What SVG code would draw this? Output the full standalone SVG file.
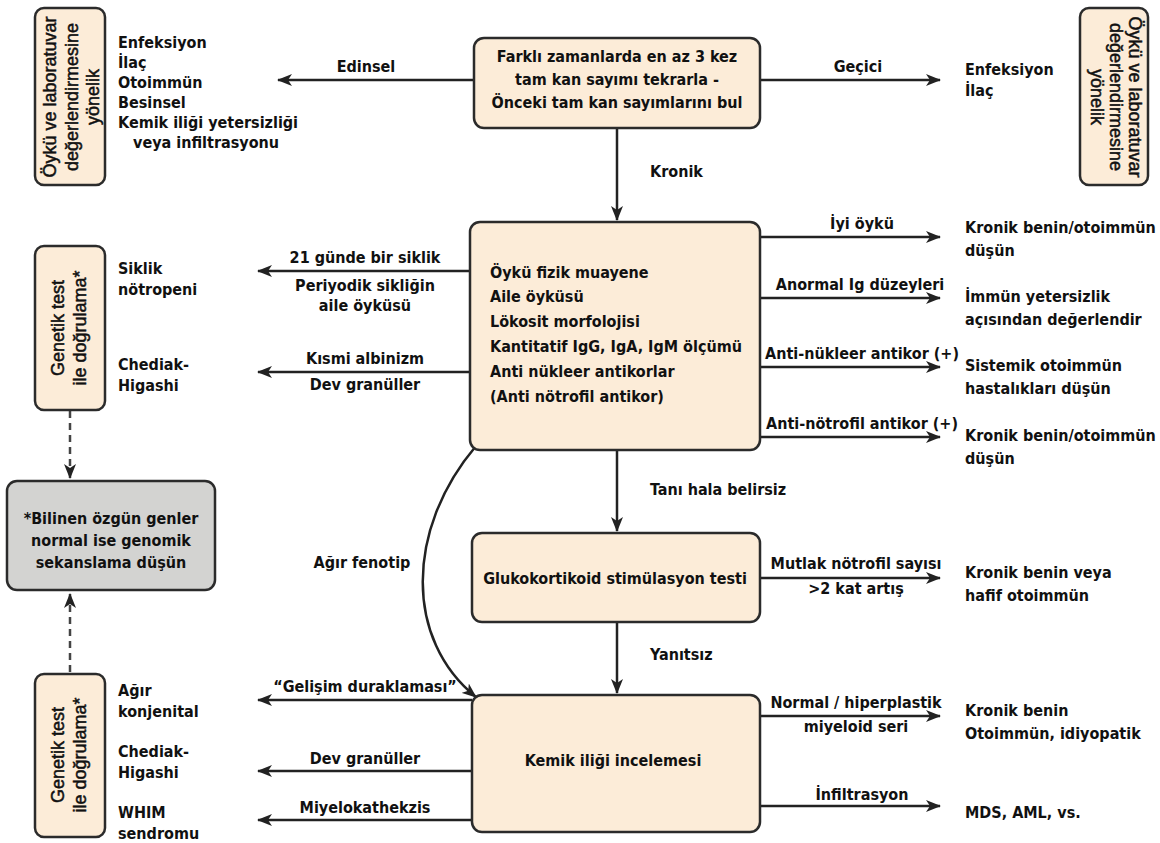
<svg xmlns="http://www.w3.org/2000/svg" width="1160" height="843" viewBox="0 0 1160 843">
<defs>
<style>
.t{font-family:"DejaVu Sans Condensed","Liberation Sans Narrow",sans-serif;font-size:16px;font-weight:bold;fill:#111}
.m{text-anchor:middle}
.r{font-family:"Liberation Sans",Arial,sans-serif;font-size:18px;fill:#111;stroke:#111;stroke-width:0.5;text-anchor:middle}
.box{fill:#fcecd8;stroke:#2b2b2b;stroke-width:2.5}
.gray{fill:#d3d3d1;stroke:#2b2b2b;stroke-width:2.5}
.c{fill:none;stroke:#222;stroke-width:2.5}
.d{fill:none;stroke:#444;stroke-width:2.5;stroke-dasharray:7,5}
</style>
<marker id="a" viewBox="0 0 15 12" refX="14" refY="6" markerWidth="15" markerHeight="12" markerUnits="userSpaceOnUse" orient="auto">
<path d="M0,0 L15,6 L0,12 L4,6 z" fill="#222"/>
</marker>
</defs>
<rect width="1160" height="843" fill="#fff"/>

<g id="connectors">
<line class="c" x1="474" y1="80" x2="278" y2="80" marker-end="url(#a)"/>
<line class="c" x1="760" y1="80" x2="940" y2="80" marker-end="url(#a)"/>
<line class="c" x1="617" y1="128" x2="617" y2="220" marker-end="url(#a)"/>
<line class="c" x1="760" y1="237" x2="940" y2="237" marker-end="url(#a)"/>
<line class="c" x1="760" y1="298" x2="940" y2="298" marker-end="url(#a)"/>
<line class="c" x1="760" y1="367" x2="940" y2="367" marker-end="url(#a)"/>
<line class="c" x1="760" y1="437" x2="940" y2="437" marker-end="url(#a)"/>
<line class="c" x1="470" y1="271" x2="258" y2="271" marker-end="url(#a)"/>
<line class="c" x1="470" y1="372" x2="258" y2="372" marker-end="url(#a)"/>
<line class="c" x1="617" y1="450" x2="617" y2="531" marker-end="url(#a)"/>
<line class="c" x1="760" y1="578" x2="940" y2="578" marker-end="url(#a)"/>
<line class="c" x1="617" y1="622" x2="617" y2="693" marker-end="url(#a)"/>
<line class="c" x1="760" y1="716" x2="940" y2="716" marker-end="url(#a)"/>
<line class="c" x1="760" y1="806" x2="940" y2="806" marker-end="url(#a)"/>
<line class="c" x1="472" y1="700" x2="258" y2="700" marker-end="url(#a)"/>
<line class="c" x1="472" y1="771" x2="258" y2="771" marker-end="url(#a)"/>
<line class="c" x1="472" y1="820" x2="258" y2="820" marker-end="url(#a)"/>
<path class="c" d="M476,446 C405,530 405,640 476,697" marker-end="url(#a)"/>
<line class="d" x1="70" y1="411" x2="70" y2="478" marker-end="url(#a)"/>
<line class="d" x1="70" y1="672" x2="70" y2="594" marker-end="url(#a)"/>
<text class="t m" x="366" y="72">Edinsel</text>
<text class="t m" x="858" y="72">Geçici</text>
<text class="t" x="650" y="177">Kronik</text>
<text class="t m" x="862" y="229">İyi öykü</text>
<text class="t m" x="860" y="290">Anormal Ig düzeyleri</text>
<text class="t m" x="862" y="359">Anti-nükleer antikor (+)</text>
<text class="t m" x="862" y="429">Anti-nötrofil antikor (+)</text>
<text class="t m" x="365" y="263">21 günde bir siklik</text>
<text class="t m" x="365" y="291">Periyodik sikliğin</text>
<text class="t m" x="365" y="311">aile öyküsü</text>
<text class="t m" x="365" y="364">Kısmi albinizm</text>
<text class="t m" x="365" y="390">Dev granüller</text>
<text class="t" x="650" y="495">Tanı hala belirsiz</text>
<text class="t m" x="362" y="568">Ağır fenotip</text>
<text class="t m" x="856" y="569">Mutlak nötrofil sayısı</text>
<text class="t m" x="856" y="594">&gt;2 kat artış</text>
<text class="t" x="650" y="660">Yanıtsız</text>
<text class="t m" x="856" y="708">Normal / hiperplastik</text>
<text class="t m" x="856" y="732">miyeloid seri</text>
<text class="t m" x="862" y="800">İnfiltrasyon</text>
<text class="t m" x="365" y="692">“Gelişim duraklaması”</text>
<text class="t m" x="365" y="764">Dev granüller</text>
<text class="t m" x="365" y="813">Miyelokathekzis</text>
</g>

<g id="n-top">
<rect class="box" x="474" y="38" width="286" height="90" rx="10"/>
<text class="t m" x="617" y="62">Farklı zamanlarda en az 3 kez</text>
<text class="t m" x="617" y="85">tam kan sayımı tekrarla -</text>
<text class="t m" x="617" y="108">Önceki tam kan sayımlarını bul</text>
</g>

<g id="n-oyku-left">
<rect class="box" x="35" y="8" width="70" height="177" rx="9"/>
<g transform="translate(70,97) rotate(-90)">
<text class="r" x="0" y="-14">Öykü ve laboratuvar</text>
<text class="r" x="0" y="8">değerlendirmesine</text>
<text class="r" x="0" y="29">yönelik</text>
</g>
</g>

<g id="n-edinsel-list">
<text class="t" x="118" y="48">Enfeksiyon</text>
<text class="t" x="118" y="68">İlaç</text>
<text class="t" x="118" y="88">Otoimmün</text>
<text class="t" x="118" y="108">Besinsel</text>
<text class="t" x="118" y="128">Kemik iliği yetersizliği</text>
<text class="t" x="133" y="148">veya infiltrasyonu</text>
</g>

<g id="n-gecici-list">
<text class="t" x="965" y="75">Enfeksiyon</text>
<text class="t" x="965" y="96">İlaç</text>
</g>

<g id="n-oyku-right">
<rect class="box" x="1080" y="8" width="68" height="177" rx="9"/>
<g transform="translate(1114,97) rotate(90)">
<text class="r" x="0" y="-15">Öykü ve laboratuvar</text>
<text class="r" x="0" y="4">değerlendirmesine</text>
<text class="r" x="0" y="23">yönelik</text>
</g>
</g>

<g id="n-main">
<rect class="box" x="470" y="222" width="290" height="228" rx="10"/>
<text class="t" x="490" y="278">Öykü fizik muayene</text>
<text class="t" x="490" y="302">Aile öyküsü</text>
<text class="t" x="490" y="327">Lökosit morfolojisi</text>
<text class="t" x="490" y="352">Kantitatif IgG, IgA, IgM ölçümü</text>
<text class="t" x="490" y="377">Anti nükleer antikorlar</text>
<text class="t" x="490" y="402">(Anti nötrofil antikor)</text>
</g>

<g id="n-right-results">
<text class="t" x="965" y="233">Kronik benin/otoimmün</text>
<text class="t" x="965" y="256">düşün</text>
<text class="t" x="965" y="302">İmmün yetersizlik</text>
<text class="t" x="965" y="325">açısından değerlendir</text>
<text class="t" x="965" y="371">Sistemik otoimmün</text>
<text class="t" x="965" y="394">hastalıkları düşün</text>
<text class="t" x="965" y="441">Kronik benin/otoimmün</text>
<text class="t" x="965" y="464">düşün</text>
<text class="t" x="965" y="578">Kronik benin veya</text>
<text class="t" x="965" y="601">hafif otoimmün</text>
<text class="t" x="965" y="716">Kronik benin</text>
<text class="t" x="965" y="739">Otoimmün, idiyopatik</text>
<text class="t" x="965" y="818">MDS, AML, vs.</text>
</g>

<g id="n-genetik-top">
<rect class="box" x="35" y="246" width="70" height="164" rx="9"/>
<g transform="translate(70,328) rotate(-90)">
<text class="r" x="0" y="-6">Genetik test</text>
<text class="r" x="0" y="16">ile doğrulama*</text>
</g>
</g>

<g id="n-genetik-top-list">
<text class="t" x="118" y="274">Siklik</text>
<text class="t" x="118" y="295">nötropeni</text>
<text class="t" x="118" y="370">Chediak-</text>
<text class="t" x="118" y="391">Higashi</text>
</g>

<g id="n-gray">
<rect class="gray" x="7" y="481" width="208" height="109" rx="10"/>
<text class="t m" x="111" y="524">*Bilinen özgün genler</text>
<text class="t m" x="111" y="546">normal ise genomik</text>
<text class="t m" x="111" y="568">sekanslama düşün</text>
</g>

<g id="n-glukokortikoid">
<rect class="box" x="472" y="533" width="288" height="89" rx="10"/>
<text class="t m" x="615" y="584">Glukokortikoid stimülasyon testi</text>
</g>

<g id="n-kemik">
<rect class="box" x="472" y="695" width="288" height="137" rx="10"/>
<text class="t m" x="613" y="766">Kemik iliği incelemesi</text>
</g>

<g id="n-genetik-bottom">
<rect class="box" x="35" y="674" width="70" height="163" rx="9"/>
<g transform="translate(70,755) rotate(-90)">
<text class="r" x="0" y="-6">Genetik test</text>
<text class="r" x="0" y="16">ile doğrulama*</text>
</g>
</g>

<g id="n-genetik-bottom-list">
<text class="t" x="118" y="696">Ağır</text>
<text class="t" x="118" y="717">konjenital</text>
<text class="t" x="118" y="757">Chediak-</text>
<text class="t" x="118" y="778">Higashi</text>
<text class="t" x="118" y="818">WHIM</text>
<text class="t" x="118" y="839">sendromu</text>
</g>
</svg>
